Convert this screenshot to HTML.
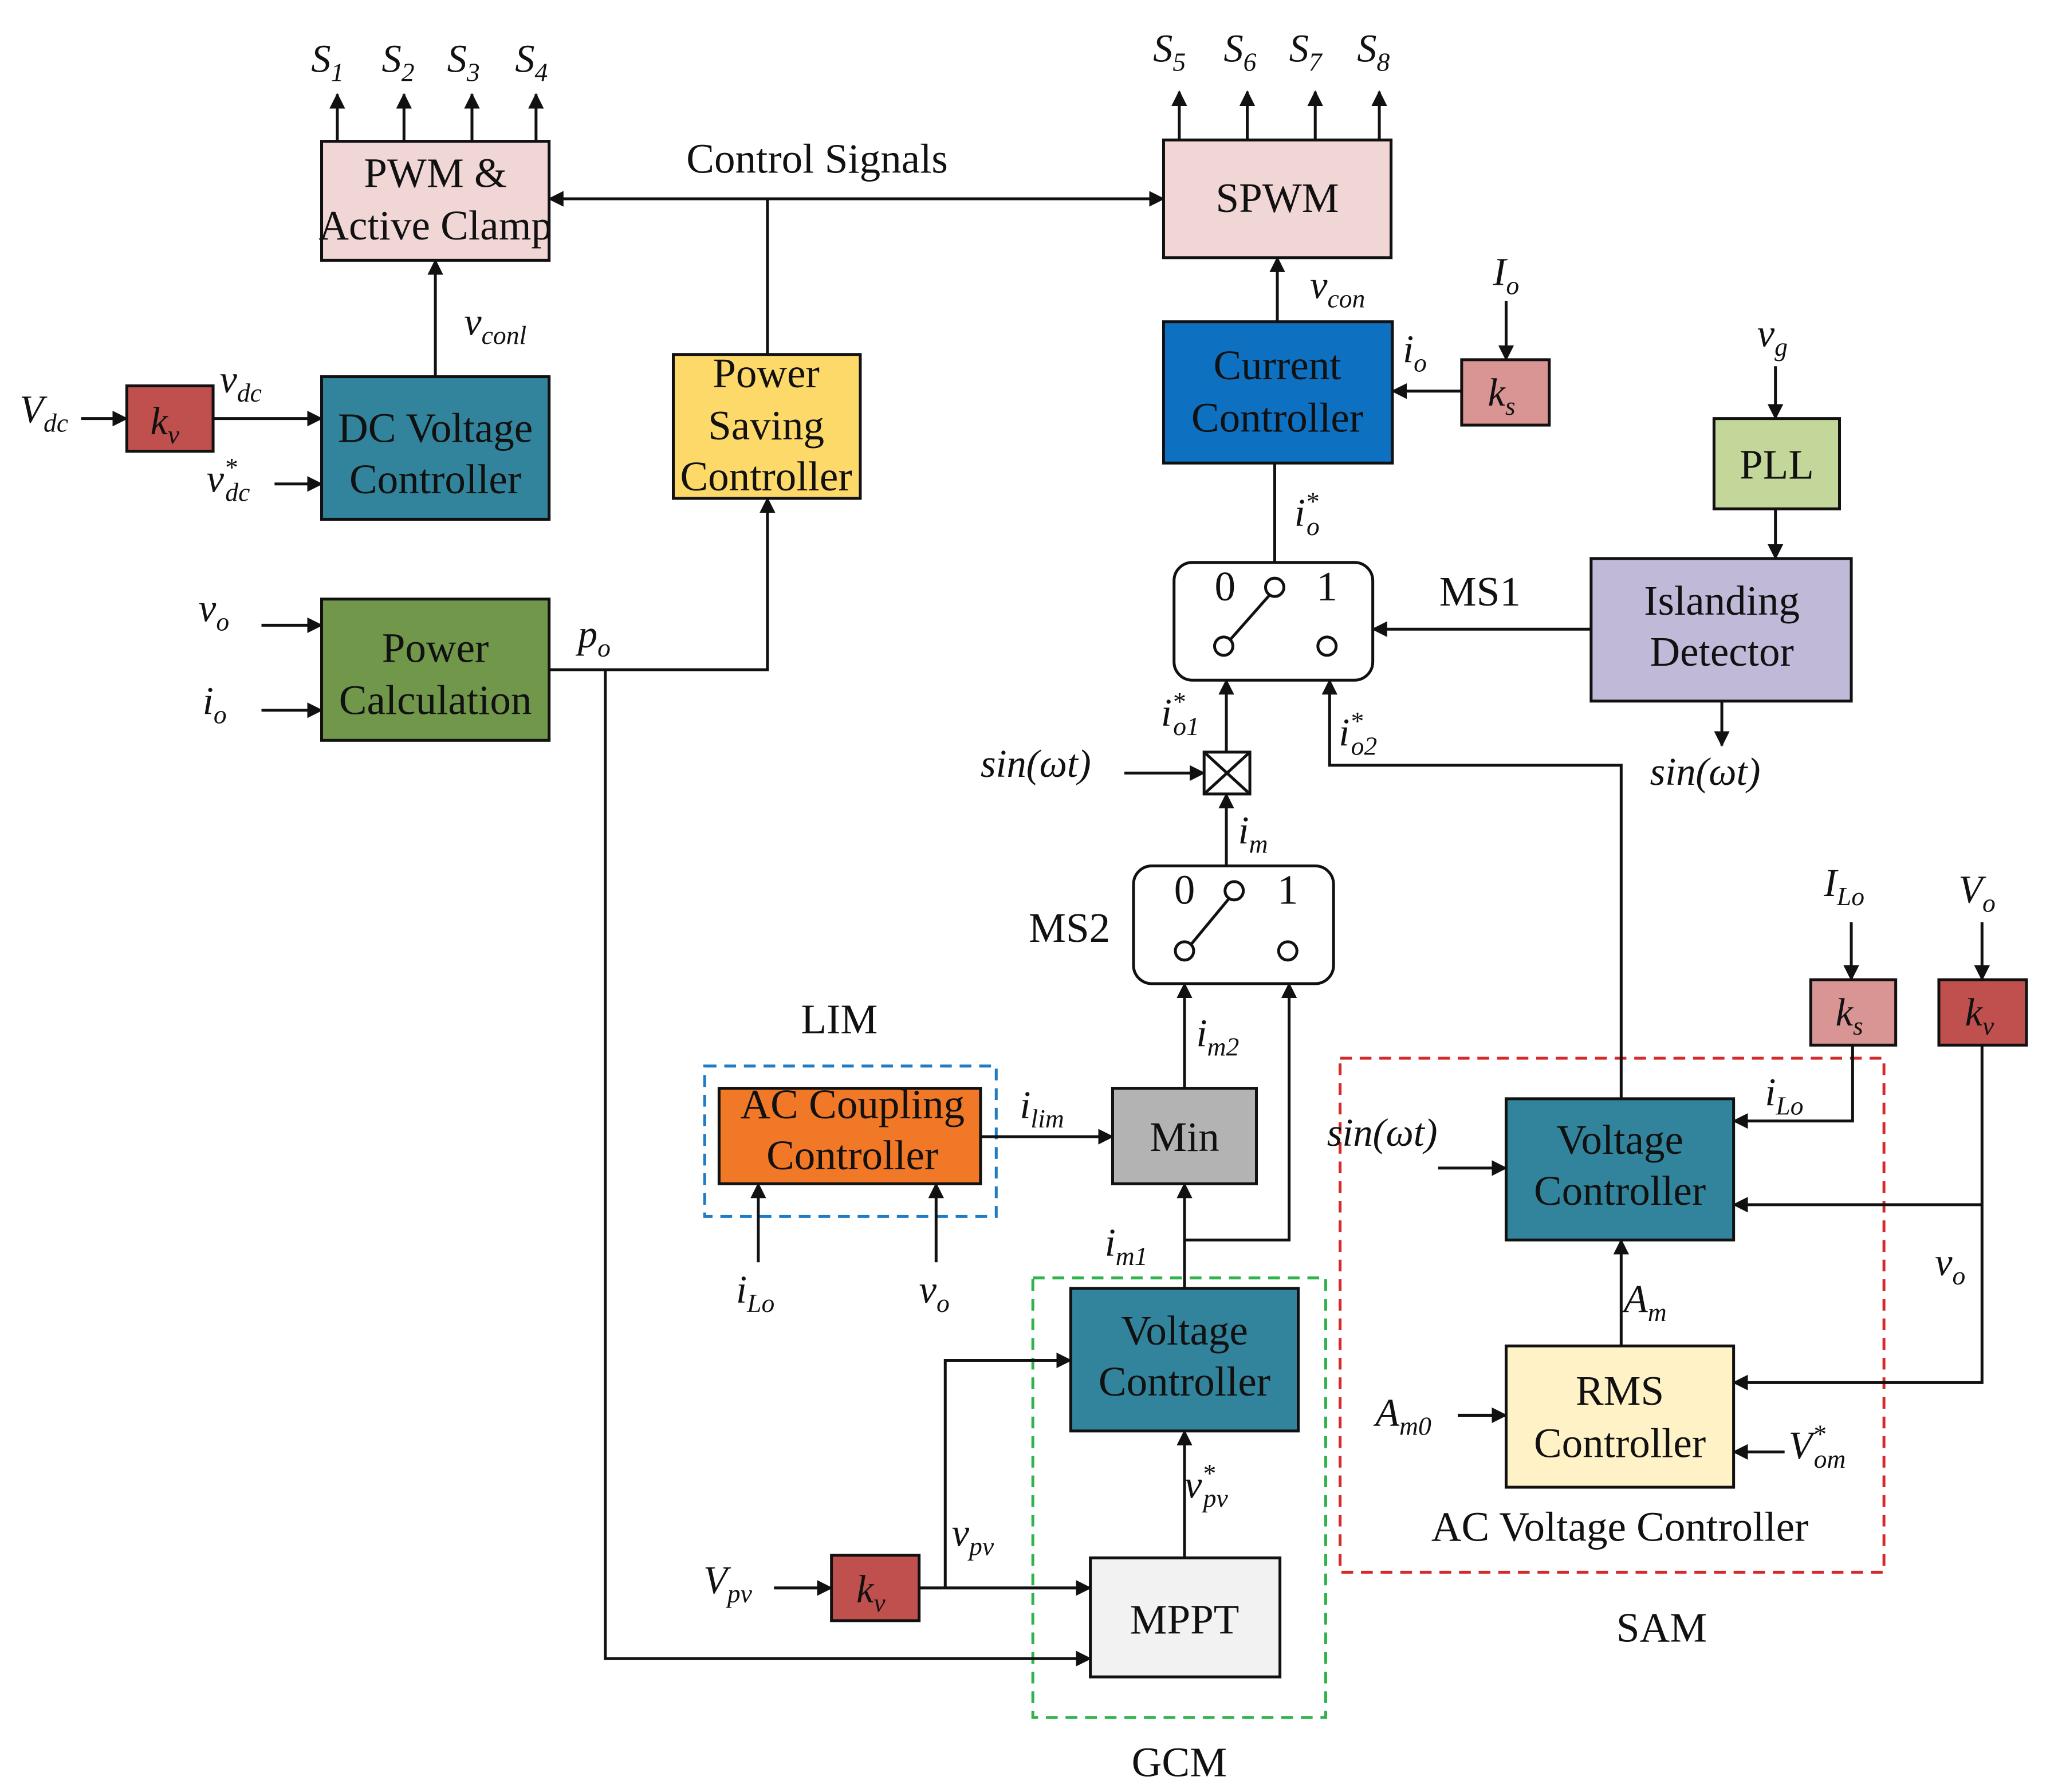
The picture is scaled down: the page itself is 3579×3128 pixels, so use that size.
<!DOCTYPE html>
<html><head><meta charset="utf-8"><style>
html,body{margin:0;padding:0;background:#fff}
svg{display:block}
text{font-family:"Liberation Serif",serif;fill:#111}
.b{font-size:32px;text-anchor:middle}
.m{font-size:30px;font-style:italic}
.s{font-size:20px;font-style:italic}
</style></head><body>
<svg width="3579" height="3128" viewBox="0 0 1568 1370" preserveAspectRatio="none" xmlns="http://www.w3.org/2000/svg">
<defs><marker id="a" markerWidth="12" markerHeight="12" refX="11" refY="6" orient="auto" markerUnits="userSpaceOnUse"><path d="M0,0 L12,6 L0,12 Z" fill="#111"/></marker>
<marker id="as" markerWidth="12" markerHeight="12" refX="1" refY="6" orient="auto" markerUnits="userSpaceOnUse"><path d="M12,0 L0,6 L12,12 Z" fill="#111"/></marker></defs>
<g stroke="#111" stroke-width="2.2" fill="none">
<rect x="246" y="108" width="174" height="91" fill="#f0d6d4"/>
<rect x="890" y="107" width="174" height="90" fill="#f0d6d4"/>
<rect x="515" y="271" width="143" height="110" fill="#fdd96a"/>
<rect x="246" y="288" width="174" height="109" fill="#31849b"/>
<rect x="97" y="295" width="66" height="50" fill="#c0504d"/>
<rect x="246" y="458" width="174" height="108" fill="#70974a"/>
<rect x="890" y="246" width="175" height="108" fill="#0e70c0"/>
<rect x="1118" y="275" width="67" height="50" fill="#d99594"/>
<rect x="1311" y="320" width="96" height="69" fill="#c4d79b"/>
<rect x="1217" y="427" width="199" height="109" fill="#c0bad8"/>
<rect x="898" y="430" width="152" height="90" rx="14" fill="#fff"/>
<rect x="921" y="575" width="35" height="32" fill="#fff"/>
<path d="M921,575 L956,607 M956,575 L921,607"/>
<rect x="867" y="662" width="153" height="90" rx="14" fill="#fff"/>
<rect x="851" y="832" width="110" height="73" fill="#b3b3b3"/>
<rect x="550" y="832" width="200" height="73" fill="#f07826"/>
<rect x="819" y="985" width="174" height="109" fill="#31849b"/>
<rect x="834" y="1191" width="145" height="91" fill="#f2f2f2"/>
<rect x="636" y="1189" width="67" height="50" fill="#c0504d"/>
<rect x="1152" y="840" width="174" height="108" fill="#31849b"/>
<rect x="1152" y="1029" width="174" height="108" fill="#fff2c6"/>
<rect x="1385" y="749" width="65" height="50" fill="#d99594"/>
<rect x="1483" y="749" width="67" height="50" fill="#c0504d"/>
<rect x="539" y="815" width="223" height="115" stroke="#1f7bc4" stroke-dasharray="9,6"/>
<rect x="790" y="977" width="224" height="336" stroke="#2fb34a" stroke-dasharray="9,6"/>
<rect x="1025" y="809" width="416" height="393" stroke="#d42a2a" stroke-dasharray="9,6"/>
<circle cx="975" cy="449" r="7" fill="#fff"/><circle cx="936" cy="494" r="7" fill="#fff"/><circle cx="1015" cy="494" r="7" fill="#fff"/>
<path d="M941,489 L971,455"/>
<circle cx="944" cy="681" r="7" fill="#fff"/><circle cx="906" cy="727" r="7" fill="#fff"/><circle cx="985" cy="727" r="7" fill="#fff"/>
<path d="M911,722 L940,687"/>
<g marker-end="url(#a)">
<path d="M258,108 V72"/><path d="M309,108 V72"/><path d="M361,108 V72"/><path d="M410,108 V72"/>
<path d="M902,107 V70"/><path d="M954,107 V70"/><path d="M1006,107 V70"/><path d="M1055,107 V70"/>
<path d="M420,152 H890" marker-start="url(#as)"/>
<path d="M333,288 V199"/>
<path d="M62,320 H97"/><path d="M163,320 H246"/><path d="M210,370 H246"/>
<path d="M200,478 H246"/><path d="M200,543 H246"/>
<path d="M420,512 H587 V381"/>
<path d="M463,512 V1268 H834"/>
<path d="M977,246 V197"/>
<path d="M1118,299 H1065"/><path d="M1152,230 V275"/>
<path d="M1358,280 V320"/><path d="M1358,389 V427"/>
<path d="M1217,481 H1050"/><path d="M1317,536 V570"/>
<path d="M938,575 V520"/><path d="M860,591 H921"/>
<path d="M1240,840 V585 H1017 V520"/>
<path d="M938,662 V607"/>
<path d="M906,832 V752"/><path d="M750,869 H851"/>
<path d="M906,985 V905"/><path d="M906,948 H986 V752"/>
<path d="M580,965 V905"/><path d="M716,965 V905"/>
<path d="M906,1191 V1094"/>
<path d="M703,1214 H834"/><path d="M723,1214 V1040 H819"/>
<path d="M592,1214 H636"/>
<path d="M1416,705 V749"/><path d="M1417,799 V857 H1326"/>
<path d="M1516,705 V749"/><path d="M1516,799 V1057 H1326"/><path d="M1516,921 H1326"/>
<path d="M1100,893 H1152"/>
<path d="M1240,1029 V948"/>
<path d="M1115,1082 H1152"/><path d="M1365,1110 H1326"/>
</g>
<path d="M587,152 V271"/><path d="M975,354 V430"/>
</g>
<text class="b" x="333" y="143">PWM &amp;</text><text class="b" x="333" y="183">Active Clamp</text>
<text class="b" x="977" y="162">SPWM</text>
<text class="b" x="586" y="296">Power</text><text class="b" x="586" y="336">Saving</text><text class="b" x="586" y="375">Controller</text>
<text class="b" x="333" y="338">DC Voltage</text><text class="b" x="333" y="377">Controller</text>
<text class="b" x="333" y="506">Power</text><text class="b" x="333" y="546">Calculation</text>
<text class="b" x="977" y="290">Current</text><text class="b" x="977" y="330">Controller</text>
<text class="b" x="1359" y="366">PLL</text>
<text class="b" x="1317" y="470">Islanding</text><text class="b" x="1317" y="509">Detector</text>
<text class="b" x="906" y="880">Min</text>
<text class="b" x="652" y="855">AC Coupling</text><text class="b" x="652" y="894">Controller</text>
<text class="b" x="906" y="1028">Voltage</text><text class="b" x="906" y="1067">Controller</text>
<text class="b" x="906" y="1249">MPPT</text>
<text class="b" x="1239" y="882">Voltage</text><text class="b" x="1239" y="921">Controller</text>
<text class="b" x="1239" y="1074">RMS</text><text class="b" x="1239" y="1114">Controller</text>
<text class="b" x="1239" y="1178">AC Voltage Controller</text>
<text class="b" x="625" y="132">Control Signals</text>
<text class="b" x="1132" y="463">MS1</text>
<text class="b" x="818" y="720">MS2</text>
<text class="b" x="642" y="790">LIM</text>
<text class="b" x="1271" y="1255">SAM</text>
<text class="b" x="902" y="1358">GCM</text>
<text class="b" x="937" y="459">0</text><text class="b" x="1015" y="459">1</text>
<text class="b" x="906" y="691">0</text><text class="b" x="985" y="691">1</text>
<text class="m" x="238" y="55">S<tspan class="s" dy="7">1</tspan></text>
<text class="m" x="292" y="55">S<tspan class="s" dy="7">2</tspan></text>
<text class="m" x="342" y="55">S<tspan class="s" dy="7">3</tspan></text>
<text class="m" x="394" y="55">S<tspan class="s" dy="7">4</tspan></text>
<text class="m" x="882" y="47">S<tspan class="s" dy="7">5</tspan></text>
<text class="m" x="936" y="47">S<tspan class="s" dy="7">6</tspan></text>
<text class="m" x="986" y="47">S<tspan class="s" dy="7">7</tspan></text>
<text class="m" x="1038" y="47">S<tspan class="s" dy="7">8</tspan></text>
<text class="m" x="355" y="256">v<tspan class="s" dy="7">conl</tspan></text>
<text class="m" x="15" y="323">V<tspan class="s" dy="7">dc</tspan></text>
<text class="m" x="115" y="332">k<tspan class="s" dy="7">v</tspan></text>
<text class="m" x="168" y="300">v<tspan class="s" dy="7">dc</tspan></text>
<text class="m" x="158" y="376">v<tspan class="s" dy="-12">*</tspan><tspan class="s" dx="-9" dy="19">dc</tspan></text>
<text class="m" x="152" y="475">v<tspan class="s" dy="7">o</tspan></text>
<text class="m" x="155" y="546">i<tspan class="s" dy="7">o</tspan></text>
<text class="m" x="442" y="495">p<tspan class="s" dy="7">o</tspan></text>
<text class="m" x="1002" y="228">v<tspan class="s" dy="7">con</tspan></text>
<text class="m" x="1142" y="218">I<tspan class="s" dy="7">o</tspan></text>
<text class="m" x="1073" y="277">i<tspan class="s" dy="7">o</tspan></text>
<text class="m" x="1138" y="310">k<tspan class="s" dy="7">s</tspan></text>
<text class="m" x="1344" y="265">v<tspan class="s" dy="7">g</tspan></text>
<text class="m" x="990" y="402">i<tspan class="s" dy="-12">*</tspan><tspan class="s" dx="-9" dy="19">o</tspan></text>
<text class="m" x="888" y="555">i<tspan class="s" dy="-12">*</tspan><tspan class="s" dx="-9" dy="19">o1</tspan></text>
<text class="m" x="1024" y="570">i<tspan class="s" dy="-12">*</tspan><tspan class="s" dx="-9" dy="19">o2</tspan></text>
<text class="m" x="750" y="594">sin(ωt)</text>
<text class="m" x="1262" y="600">sin(ωt)</text>
<text class="m" x="947" y="645">i<tspan class="s" dy="7">m</tspan></text>
<text class="m" x="915" y="800">i<tspan class="s" dy="7">m2</tspan></text>
<text class="m" x="780" y="855">i<tspan class="s" dy="7">lim</tspan></text>
<text class="m" x="845" y="960">i<tspan class="s" dy="7">m1</tspan></text>
<text class="m" x="563" y="996">i<tspan class="s" dy="7">Lo</tspan></text>
<text class="m" x="703" y="996">v<tspan class="s" dy="7">o</tspan></text>
<text class="m" x="906" y="1145">v<tspan class="s" dy="-12">*</tspan><tspan class="s" dx="-9" dy="19">pv</tspan></text>
<text class="m" x="728" y="1182">v<tspan class="s" dy="7">pv</tspan></text>
<text class="m" x="538" y="1218">V<tspan class="s" dy="7">pv</tspan></text>
<text class="m" x="655" y="1225">k<tspan class="s" dy="7">v</tspan></text>
<text class="m" x="1395" y="685">I<tspan class="s" dy="7">Lo</tspan></text>
<text class="m" x="1498" y="690">V<tspan class="s" dy="7">o</tspan></text>
<text class="m" x="1404" y="784">k<tspan class="s" dy="7">s</tspan></text>
<text class="m" x="1503" y="784">k<tspan class="s" dy="7">v</tspan></text>
<text class="m" x="1350" y="845">i<tspan class="s" dy="7">Lo</tspan></text>
<text class="m" x="1015" y="876">sin(ωt)</text>
<text class="m" x="1480" y="975">v<tspan class="s" dy="7">o</tspan></text>
<text class="m" x="1242" y="1003">A<tspan class="s" dy="7">m</tspan></text>
<text class="m" x="1052" y="1090">A<tspan class="s" dy="7">m0</tspan></text>
<text class="m" x="1368" y="1115">V<tspan class="s" dy="-12">*</tspan><tspan class="s" dx="-9" dy="19">om</tspan></text>
</svg>
</body></html>
